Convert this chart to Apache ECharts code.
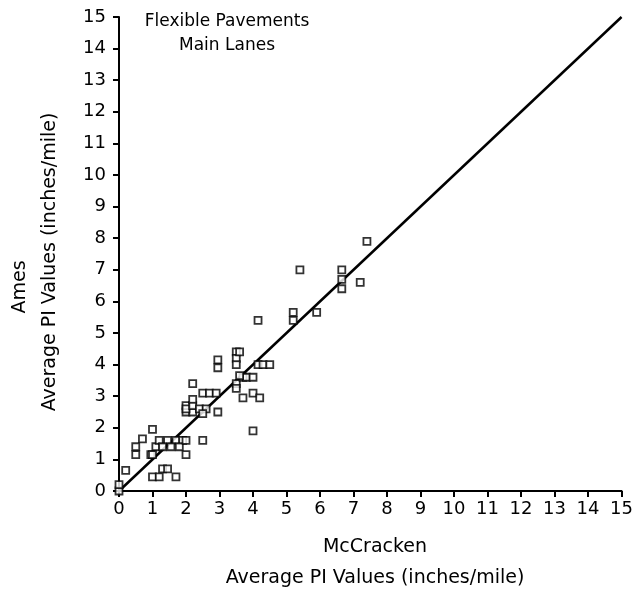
<!DOCTYPE html>
<html>
<head>
<meta charset="utf-8">
<script src="https://cdn.jsdelivr.net/npm/echarts@6/dist/echarts.min.js"></script>
<style>html,body{margin:0;padding:0;background:#fff;}#c{width:636px;height:600px;}</style>
</head>
<body>
<div id="c"></div>
<script>
const titleLines = ['Flexible Pavements', 'Main Lanes'];
const xTitleLines = ['McCracken', 'Average PI Values (inches/mile)'];
const yTitleLines = ['Ames', 'Average PI Values (inches/mile)'];
const axisMin = 0, axisMax = 15, axisStep = 1;
const mcCracken = [0, 0, 0.2, 0.5, 0.5, 0.7, 1.0, 0.95, 1.1, 1.0, 1.2, 1.3, 1.45, 1.7,
  1.2, 1.45, 1.7, 1.9, 1.3, 1.55, 1.8, 2.0, 2.0, 2.0, 2.0, 2.2, 2.0, 2.2, 2.2, 2.2,
  2.4, 2.6, 2.5, 2.5, 2.7, 2.9, 2.5, 2.95, 2.95, 2.95, 3.5, 3.5, 3.6, 3.5, 3.5, 3.5,
  3.7, 3.7, 3.8, 4.0, 4.0, 4.0, 4.15, 4.3, 4.5, 4.2, 4.15, 5.2, 5.2, 5.4, 5.9, 6.65,
  6.65, 6.65, 7.2, 7.4, 1.0, 3.6];
const ames = [0, 0.2, 0.65, 1.15, 1.4, 1.65, 1.95, 1.15, 1.4, 0.45, 0.45, 0.7, 0.7, 0.45,
  1.6, 1.6, 1.6, 1.6, 1.4, 1.4, 1.4, 1.15, 1.6, 2.5, 2.7, 2.5, 2.6, 2.7, 3.4, 2.9,
  2.6, 2.6, 2.45, 3.1, 3.1, 3.1, 1.6, 2.5, 4.15, 3.9, 4.4, 4.2, 4.4, 4.0, 3.4, 3.25,
  2.95, 3.6, 3.6, 3.6, 3.1, 1.9, 4.0, 4.0, 4.0, 2.95, 5.4, 5.65, 5.4, 7.0, 5.65, 7.0,
  6.7, 6.4, 6.6, 7.9, 1.15, 3.65];
const refLine = [[0, 0], [15, 15]];

const font = '"DejaVu Sans", sans-serif';
const chart = echarts.init(document.getElementById('c'));
const pts = mcCracken.map((x, i) => [x, ames[i]]);
const axisCommon = {
  type: 'value', min: axisMin, max: axisMax, interval: axisStep,
  splitLine: { show: false },
  axisLine: { show: true, onZero: false, lineStyle: { color: '#000', width: 2 } },
  axisTick: { show: true, inside: false, length: 6, lineStyle: { color: '#000', width: 2 } },
  axisLabel: { color: '#000', fontSize: 18, fontFamily: font }
};
const txt = (t, x, y, size, rot) => ({
  type: 'text', x: x, y: y, rotation: rot || 0,
  style: { text: t, fontSize: size, fontFamily: font, fill: '#000', align: 'center', verticalAlign: 'middle' }
});
chart.setOption({
  animation: false,
  backgroundColor: '#fff',
  grid: { left: 119, right: 13, top: 17, bottom: 109 },
  xAxis: Object.assign({}, axisCommon, { axisLabel: Object.assign({}, axisCommon.axisLabel, { margin: 9 }) }),
  yAxis: Object.assign({}, axisCommon, { axisLabel: Object.assign({}, axisCommon.axisLabel, { margin: 13 }) }),
  graphic: [
    txt(titleLines[0], 227, 22, 17),
    txt(titleLines[1], 227, 46, 17),
    txt(xTitleLines[0], 375, 547, 19),
    txt(xTitleLines[1], 375, 578, 19),
    txt(yTitleLines[0], 20, 287, 19, Math.PI / 2),
    txt(yTitleLines[1], 50, 262, 19, Math.PI / 2)
  ],
  series: [
    { type: 'line', data: refLine, symbol: 'none', lineStyle: { color: '#000', width: 2.5 }, z: 3 },
    { type: 'scatter', data: pts, symbol: 'rect', symbolSize: 7,
      itemStyle: { color: '#fff', borderColor: '#000', borderWidth: 1.8 }, z: 4 }
  ]
});
</script>
</body>
</html>
